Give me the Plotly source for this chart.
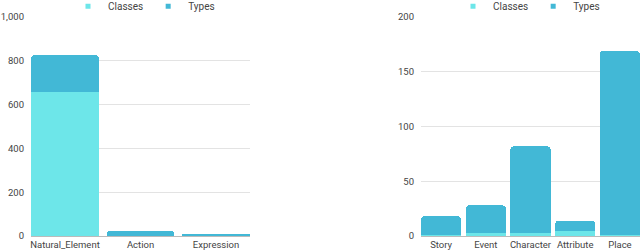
import plotly.graph_objects as go

left_cats = ["Natural_Element", "Action", "Expression"]
left_classes = [657, 2, 1]
left_types = [169, 21, 10]

right_cats = ["Story", "Event", "Character", "Attribute", "Place"]
right_classes = [1, 3, 3, 5, 1]
right_types = [17, 25, 79, 9, 168]

series_names = ["Classes", "Types"]
c_classes = "#6de6e9"
c_types = "#42b8d6"
colors = [c_classes, c_types]
font = "Roboto"
gap = 0.1

fig = go.Figure()
for (cats, vals, xa, ya, lg) in [
    (left_cats, [left_classes, left_types], "x", "y", "legend"),
    (right_cats, [right_classes, right_types], "x2", "y2", "legend2"),
]:
    for name, v, col in zip(series_names, vals, colors):
        fig.add_bar(x=cats, y=v, name=name, marker_color=col, marker_line_width=0,
                    xaxis=xa, yaxis=ya, showlegend=False)
    for name, col in zip(series_names, colors):
        fig.add_scatter(x=[None], y=[None], mode="markers", name=name,
                        marker=dict(symbol="square", size=5, color=col),
                        xaxis=xa, yaxis=ya, legend=lg)

axis_font = dict(family=font, size=9.5, color="#444")
legend_font = dict(family=font, size=10, color="#444")
ydom = [15 / 251, 234 / 251]
fig.update_layout(
    width=640, height=251,
    margin=dict(l=0, r=0, t=0, b=0, autoexpand=False),
    paper_bgcolor="white", plot_bgcolor="white",
    barmode="stack", bargap=gap, barcornerradius=4,
    font=dict(family=font, size=9.5, color="#444"),
    xaxis=dict(domain=[31 / 640, 250 / 640], anchor="y", showgrid=False,
               range=[-0.5 + gap / 2, len(left_cats) - 0.5 - gap / 2],
               showline=True, linecolor="#bbbbbb", linewidth=1, ticks="",
               tickfont=axis_font, tickangle=0, automargin=False),
    yaxis=dict(domain=ydom, anchor="x", range=[0, 1000], dtick=200,
               tickformat=",", showgrid=True, gridcolor="#e3e3e3",
               zeroline=False, tickfont=axis_font, ticks="", ticklabelstandoff=6,
               automargin=False),
    xaxis2=dict(domain=[421 / 640, 1.0], anchor="y2", showgrid=False,
                range=[-0.5 + gap / 2, len(right_cats) - 0.5 - gap / 2],
                showline=True, linecolor="#bbbbbb", linewidth=1, ticks="",
                tickfont=axis_font, tickangle=0, automargin=False),
    yaxis2=dict(domain=ydom, anchor="x2", range=[0, 200], dtick=50,
                showgrid=True, gridcolor="#e3e3e3", zeroline=False,
                tickfont=axis_font, ticks="", ticklabelstandoff=6, automargin=False),
    legend=dict(orientation="h", x=144 / 640, y=1.033, xanchor="center", yanchor="top",
                font=legend_font, traceorder="normal",
                itemwidth=30, bgcolor="rgba(0,0,0,0)", tracegroupgap=0),
    legend2=dict(orientation="h", x=529 / 640, y=1.033, xanchor="center", yanchor="top",
                 font=legend_font, traceorder="normal",
                 itemwidth=30, bgcolor="rgba(0,0,0,0)", tracegroupgap=0),
)

fig.write_html("out.html", config={"displayModeBar": False},
               post_script="document.body.style.margin='0';")
